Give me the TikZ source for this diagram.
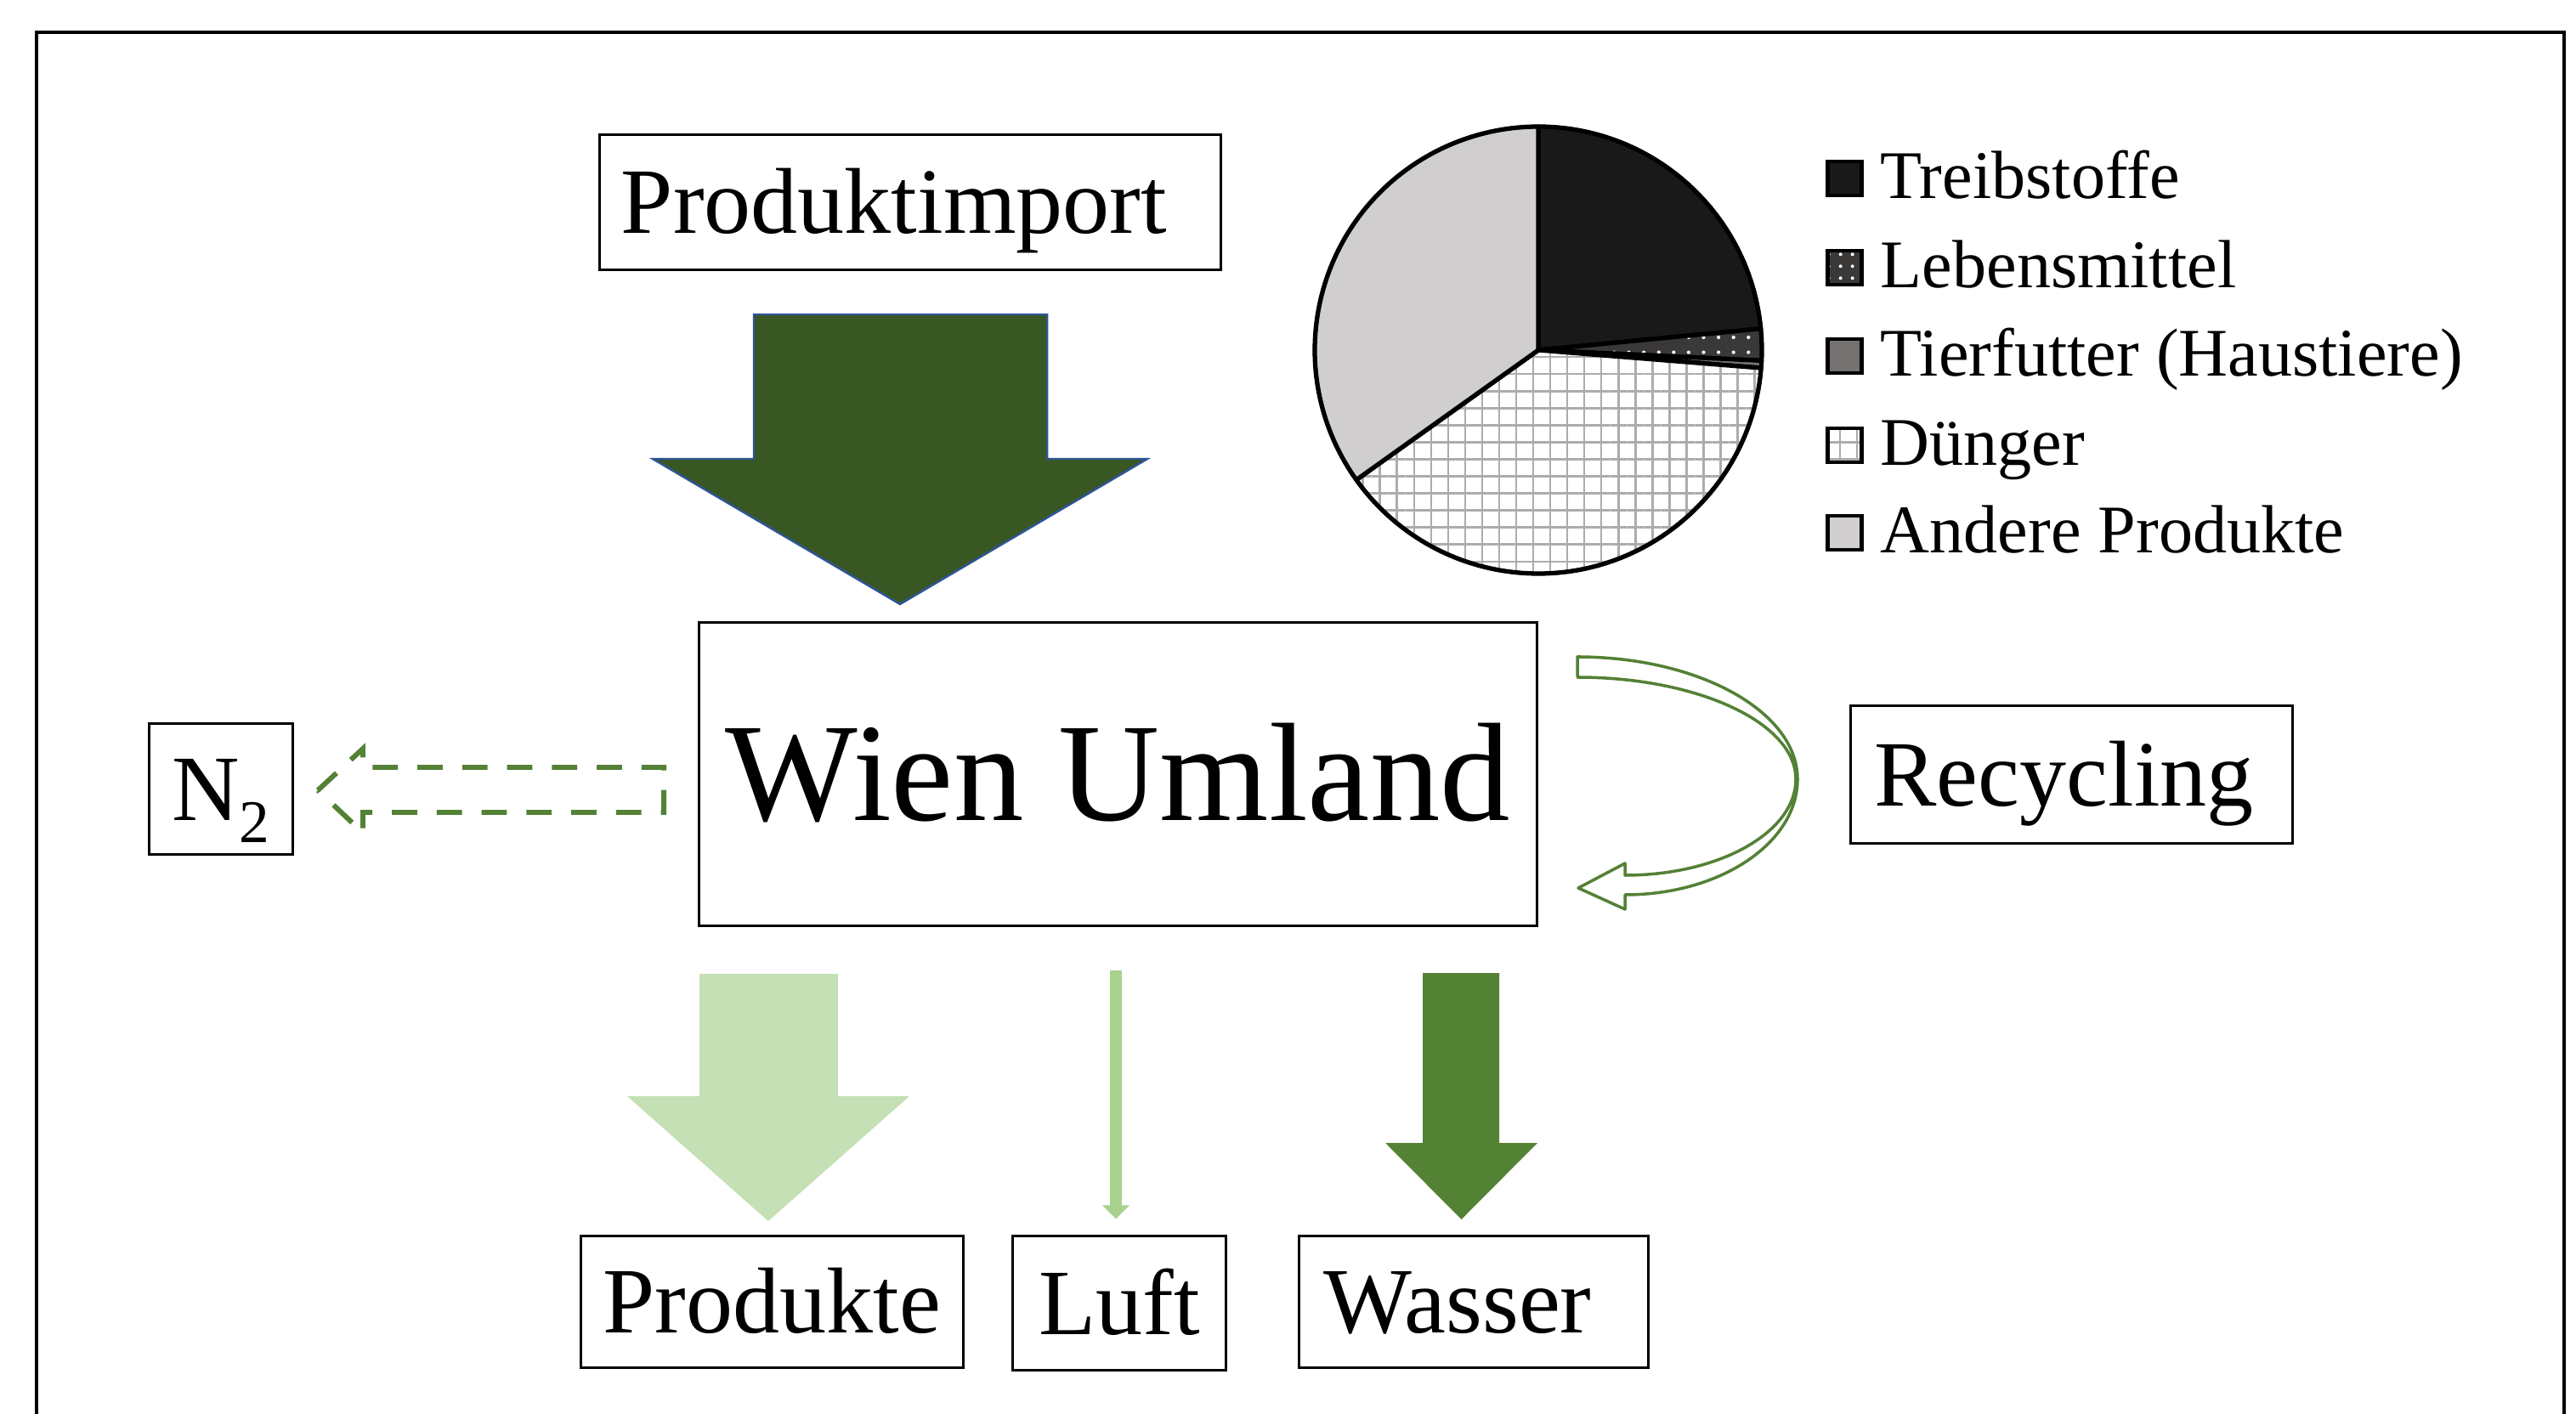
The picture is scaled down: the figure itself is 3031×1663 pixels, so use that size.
\documentclass[tikz,border=0pt]{standalone}
\usepackage{fontspec}
\setmainfont{Liberation Serif}
\usetikzlibrary{calc,patterns.meta,arrows.meta}

\definecolor{importgreen}{HTML}{385723}
\definecolor{importedge}{HTML}{2F5597}
\definecolor{flowgreen}{HTML}{538135}
\definecolor{prodgreen}{HTML}{C5E0B4}
\definecolor{luftgreen}{HTML}{A9D18E}
\definecolor{wassergreen}{HTML}{548235}
\definecolor{treibfill}{HTML}{191919}
\definecolor{lebensfill}{HTML}{3B3838}
\definecolor{futterfill}{HTML}{767171}
\definecolor{gridline}{HTML}{AFABAB}
\definecolor{anderefill}{HTML}{D0CECE}

\begin{document}
\begin{tikzpicture}[x=0.01cm, y=0.01cm,
  labelbox/.style={draw=black, line width=0.85pt, fill=white, inner sep=0pt,
    text height=0.73cm, text depth=0pt,
    font=\fontsize{31.3pt}{37pt}\selectfont},
  bigbox/.style={labelbox, text height=1.09cm,
    font=\fontsize{46.9pt}{56pt}\selectfont},
  legsq/.style={draw=black, line width=1.2pt, minimum size=0.40cm, inner sep=0pt},
  legtxt/.style={anchor=base west, inner sep=0pt,
    font=\fontsize{22.8pt}{27pt}\selectfont},
  slice/.style={draw=black, line width=1.5pt, line join=round},
  nflow/.style={draw=flowgreen, line width=1.7pt, dash pattern=on 8.5pt off 6.5pt},
  recflow/.style={draw=flowgreen, line width=1pt, fill=white, line join=round},
]
\useasboundingbox (0,0) rectangle (3031,1663);

% outer frame, open at the bottom
\draw[line width=0.9pt] (43,-10) -- (43,1625) -- (3017,1625) -- (3017,-10);

% boxes
\node[labelbox, minimum width=7.30cm, minimum height=1.58cm] (import) at (1071,1425) {Produktimport\hspace*{0.38cm}};
\node[bigbox, minimum width=9.85cm, minimum height=3.56cm] (wien) at (1315.5,752) {Wien Umland};
\node[labelbox, minimum width=1.68cm, minimum height=1.53cm] (ntwo) at (260,734.5)
  {N{\fontsize{20.3pt}{24pt}\selectfont\raisebox{-0.26cm}{2}}};
\node[labelbox, minimum width=5.19cm, minimum height=1.61cm] (recyc) at (2437.5,751.5) {Recycling\hspace*{0.18cm}};
\node[labelbox, minimum width=4.49cm, minimum height=1.54cm] (produkte) at (908.5,131) {Produkte};
\node[labelbox, minimum width=2.50cm, minimum height=1.57cm] (luft) at (1317,129.5) {Luft};
\node[labelbox, minimum width=4.10cm, minimum height=1.54cm] (wasser) at (1734,131) {Wasser\hspace*{0.38cm}};

% import block arrow
\filldraw[fill=importgreen, draw=importedge, line width=0.7pt, line join=miter]
  (887,1293) -- (1232,1293) -- (1232,1123) -- (1350,1123) -- (1059,952)
  -- (768,1123) -- (887,1123) -- cycle;

% nitrogen loss: dashed outline arrow
\draw[nflow] (374,733) -- (427,782) -- (427,760) -- (781,760) -- (781,707)
  -- (427,707) -- (427,683) -- cycle;

% recycling: curved outline arrow
\draw[recflow] (1856,890)
  arc[start angle=90, end angle=0, x radius=259, y radius=144]
  arc[start angle=0, end angle=-90, x radius=203, y radius=136]
  -- (1912,593) -- (1857,618) -- (1912,647) -- (1912,633)
  arc[start angle=-90, end angle=0, x radius=201, y radius=113]
  arc[start angle=0, end angle=90, x radius=257, y radius=120]
  -- cycle;

% outputs
\fill[prodgreen] (823,517) -- (986,517) -- (986,373) -- (1070,373) -- (904,226)
  -- (738,373) -- (823,373) -- cycle;
\draw[luftgreen, line width=4.2pt, -{Triangle[width=0.31cm, length=0.16cm]}]
  ($(wien.south -| luft.north)+(-4,-51)$) -- ($(luft.north)+(-4,19)$);
\fill[wassergreen] (1674,518) -- (1764,518) -- (1764,318) -- (1809,318) -- (1719.5,228)
  -- (1630,318) -- (1674,318) -- cycle;

% pie chart of imported products
\coordinate (pc) at (1810,1251);
\filldraw[slice, fill=treibfill] (pc) -- ++(90:263) arc[start angle=90, end angle=5.5, radius=263] -- cycle;
\fill[lebensfill] (pc) -- ++(5.5:263) arc[start angle=5.5, end angle=-2.7, radius=263] -- cycle;
\fill[pattern={Dots[radius=0.6pt, distance=5pt]}, pattern color=white]
  (pc) -- ++(5.5:263) arc[start angle=5.5, end angle=-2.7, radius=263] -- cycle;
\draw[slice] (pc) -- ++(5.5:263) arc[start angle=5.5, end angle=-2.7, radius=263] -- cycle;
\filldraw[slice, fill=futterfill] (pc) -- ++(-2.7:263) arc[start angle=-2.7, end angle=-4.6, radius=263] -- cycle;
\fill[white] (pc) -- ++(-4.6:263) arc[start angle=-4.6, end angle=-144.5, radius=263] -- cycle;
\fill[pattern={Hatch[angle=0, distance=5.7pt, line width=0.7pt]}, pattern color=gridline]
  (pc) -- ++(-4.6:263) arc[start angle=-4.6, end angle=-144.5, radius=263] -- cycle;
\draw[slice] (pc) -- ++(-4.6:263) arc[start angle=-4.6, end angle=-144.5, radius=263] -- cycle;
\filldraw[slice, fill=anderefill] (pc) -- ++(-144.5:263) arc[start angle=-144.5, end angle=-270, radius=263] -- cycle;
\draw[line width=1.2pt] (pc) circle[radius=263];

% legend
\node[legsq, fill=treibfill] (sqtreib) at (2170.5,1453) {};
\node[legsq, fill=lebensfill] (sqlebens) at (2170.5,1348) {};
\node[legsq, pattern={Dots[radius=0.6pt, distance=4pt]}, pattern color=white] (sqlebensdots) at (2170.5,1348) {};
\node[legsq, fill=futterfill] (sqfutter) at (2170.5,1244) {};
\node[legsq, fill=white] (sqdung) at (2170.5,1139) {};
\node[legsq, pattern={Hatch[angle=0, distance=5.7pt, line width=0.7pt]}, pattern color=gridline] (sqdunggrid) at (2170.5,1139) {};
\node[legsq, fill=anderefill] (sqandere) at (2170.5,1036) {};

\node[legtxt] (ltreib) at (2212,1429) {Treibstoffe};
\node[legtxt] (llebens) at (2212,1324) {Lebensmittel};
\node[legtxt] (lfutter) at (2212,1220) {Tierfutter (Haustiere)};
\node[legtxt] (ldung) at (2212,1115) {Dünger};
\node[legtxt] (landere) at (2212,1012) {Andere Produkte};
\end{tikzpicture}
\end{document}
